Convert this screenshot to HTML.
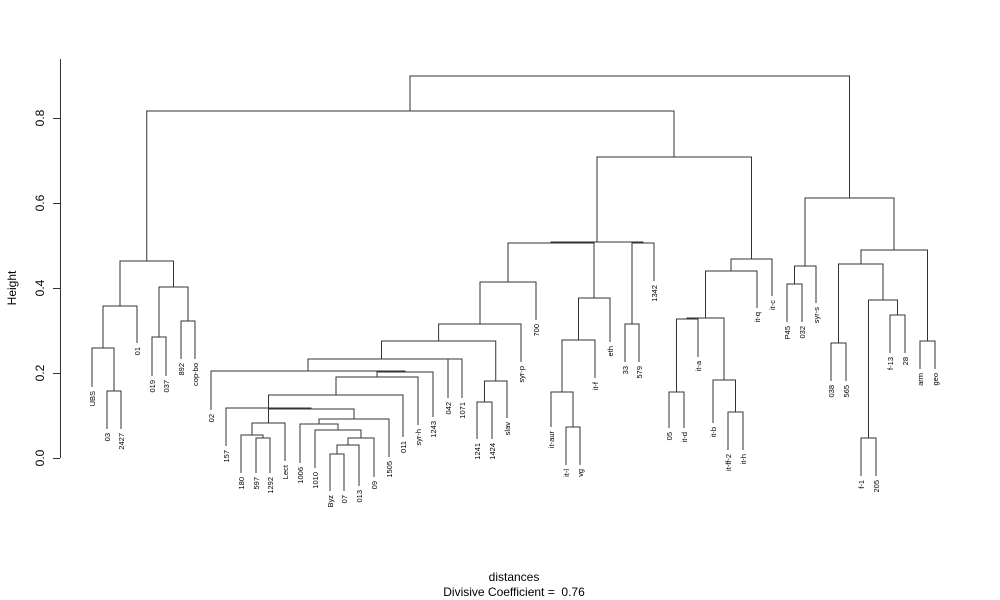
<!DOCTYPE html>
<html><head><meta charset="utf-8"><style>body{margin:0;background:#fff}svg{display:block}</style></head><body>
<svg width="1000" height="600" xmlns="http://www.w3.org/2000/svg" font-family="Liberation Sans, sans-serif">
<rect width="1000" height="600" fill="#fff"/>
<g stroke="#333" stroke-width="1" fill="none">
<path d="M60.5,59 V458 M53,458.5 H60 M53,373.5 H60 M53,288.5 H60 M53,203.5 H60 M53,118.5 H60"/>
<path d="M107,429 V391 H121 V429 M92,387 V348 H114 V391 M103,348 V306 H137 V343 M152,376 V337 H166 V376 M181,359 V321 H195 V359 M159,337 V287 H188 V321 M120,306 V261 H173.5 V287
M256,473 V438 H270 V473 M241,473 V435 H263 V438 M252,435 V423 H285 V461 M330,491 V454 H344 V491 M337,454 V445 H359 V486 M348,445 V438 H374 V477 M315,468 V430 H361 V438 M300,463 V424 H338 V430 M319,424 V419 H389 V457 M268.5,423 V409 H354 V419 M226,446 V408 H311 V409 M268.5,408 V395 H403 V437 M336,395 V377 H418 V425 M377,377 V372 H433 V417 M211,410 V371 H405 V372 M448,398 V359 H462 V398 M308,371 V359 H455 V359 M477,439 V402 H492 V439 M484.5,402 V381 H507 V418 M381.5,359 V341 H495.75 V381 M438.6,341 V324 H521 V362 M480,324 V282 H536 V320
M566,465 V427 H580 V465 M551,427 V392 H573 V427 M562,392 V340 H595 V378 M578.5,340 V298 H610 V342 M508,282 V243 H594 V298 M625,362 V324 H639 V362 M632,324 V243 H654 V281 M551,243 V242 H643 V243
M669,428 V392 H684 V428 M676.5,392 V319 H698 V357 M728,450 V412 H743 V450 M713,423 V380 H735.5 V412 M687,319 V318 H724 V380 M705.5,318 V271 H757 V308 M731,271 V259 H772 V296 M597,242 V157 H751.5 V259 M146.75,261 V111 H674 V157
M787,322 V284 H802 V322 M794.5,284 V266 H816 V303 M831,381 V343 H846 V381 M861,476 V438 H876 V476 M890,353 V315 H905 V353 M868.5,438 V300 H897.5 V315 M838.5,343 V264 H883 V300 M920,369 V341 H935 V369 M861,264 V250 H927.5 V341 M805,266 V198 H894 V250 M410,111 V76 H849.5 V198"/>
</g>
<g font-size="12" fill="#000" text-anchor="middle">
<text transform="translate(44,458) rotate(-90)">0.0</text>
<text transform="translate(44,373) rotate(-90)">0.2</text>
<text transform="translate(44,288) rotate(-90)">0.4</text>
<text transform="translate(44,203) rotate(-90)">0.6</text>
<text transform="translate(44,118) rotate(-90)">0.8</text>
<text transform="translate(16,288) rotate(-90)">Height</text>
<text x="514" y="581">distances</text>
<text x="514" y="596">Divisive Coefficient =&#160; 0.76</text>
</g>
<g font-size="7.5" fill="#000" text-anchor="end">
<text transform="translate(95,391) rotate(-90)">UBS</text>
<text transform="translate(110,433) rotate(-90)">03</text>
<text transform="translate(124,433) rotate(-90)">2427</text>
<text transform="translate(140,347) rotate(-90)">01</text>
<text transform="translate(155,380) rotate(-90)">019</text>
<text transform="translate(169,380) rotate(-90)">037</text>
<text transform="translate(184,363) rotate(-90)">892</text>
<text transform="translate(198,363) rotate(-90)">cop-bo</text>
<text transform="translate(214,414) rotate(-90)">02</text>
<text transform="translate(229,450) rotate(-90)">157</text>
<text transform="translate(244,477) rotate(-90)">180</text>
<text transform="translate(259,477) rotate(-90)">597</text>
<text transform="translate(273,477) rotate(-90)">1292</text>
<text transform="translate(288,465) rotate(-90)">Lect</text>
<text transform="translate(303,467) rotate(-90)">1006</text>
<text transform="translate(318,472) rotate(-90)">1010</text>
<text transform="translate(333,495) rotate(-90)">Byz</text>
<text transform="translate(347,495) rotate(-90)">07</text>
<text transform="translate(362,490) rotate(-90)">013</text>
<text transform="translate(377,481) rotate(-90)">09</text>
<text transform="translate(392,461) rotate(-90)">1505</text>
<text transform="translate(406,441) rotate(-90)">011</text>
<text transform="translate(421,429) rotate(-90)">syr-h</text>
<text transform="translate(436,421) rotate(-90)">1243</text>
<text transform="translate(451,402) rotate(-90)">042</text>
<text transform="translate(465,402) rotate(-90)">1071</text>
<text transform="translate(480,443) rotate(-90)">1241</text>
<text transform="translate(495,443) rotate(-90)">1424</text>
<text transform="translate(510,422) rotate(-90)">slav</text>
<text transform="translate(524,366) rotate(-90)">syr-p</text>
<text transform="translate(539,324) rotate(-90)">700</text>
<text transform="translate(554,431) rotate(-90)">it-aur</text>
<text transform="translate(569,469) rotate(-90)">it-l</text>
<text transform="translate(583,469) rotate(-90)">vg</text>
<text transform="translate(598,382) rotate(-90)">it-f</text>
<text transform="translate(613,346) rotate(-90)">eth</text>
<text transform="translate(628,366) rotate(-90)">33</text>
<text transform="translate(642,366) rotate(-90)">579</text>
<text transform="translate(657,285) rotate(-90)">1342</text>
<text transform="translate(672,432) rotate(-90)">05</text>
<text transform="translate(687,432) rotate(-90)">it-d</text>
<text transform="translate(701,361) rotate(-90)">it-a</text>
<text transform="translate(716,427) rotate(-90)">it-b</text>
<text transform="translate(731,454) rotate(-90)">it-ff-2</text>
<text transform="translate(746,454) rotate(-90)">it-h</text>
<text transform="translate(760,312) rotate(-90)">it-q</text>
<text transform="translate(775,300) rotate(-90)">it-c</text>
<text transform="translate(790,326) rotate(-90)">P45</text>
<text transform="translate(805,326) rotate(-90)">032</text>
<text transform="translate(819,307) rotate(-90)">syr-s</text>
<text transform="translate(834,385) rotate(-90)">038</text>
<text transform="translate(849,385) rotate(-90)">565</text>
<text transform="translate(864,480) rotate(-90)">f-1</text>
<text transform="translate(879,480) rotate(-90)">205</text>
<text transform="translate(893,357) rotate(-90)">f-13</text>
<text transform="translate(908,357) rotate(-90)">28</text>
<text transform="translate(923,373) rotate(-90)">arm</text>
<text transform="translate(938,373) rotate(-90)">geo</text>
</g>
</svg>
</body></html>
